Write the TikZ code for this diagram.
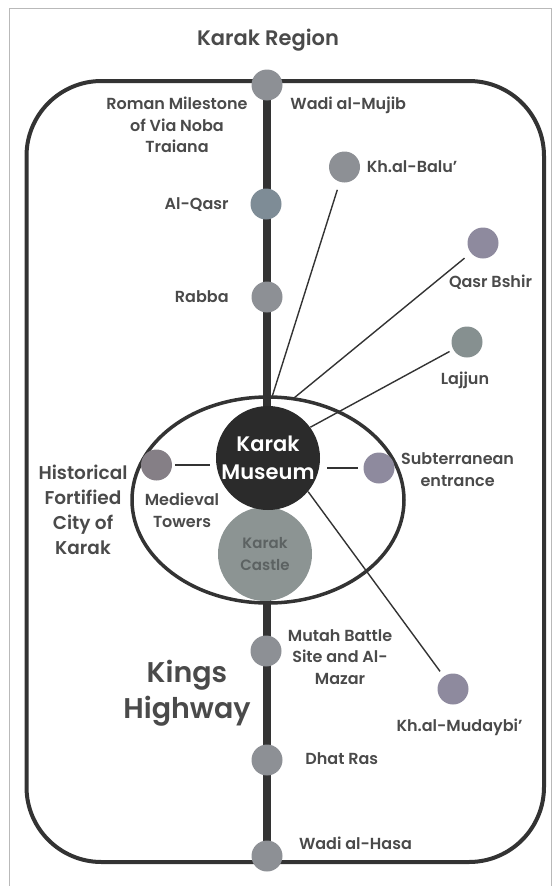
\documentclass[tikz,border=0pt]{standalone}
\usepackage{fontspec}
\setmainfont{Poppins}[BoldFont={Poppins SemiBold}]
\usepackage{tikz}
\usetikzlibrary{positioning,shapes.geometric}
\definecolor{ink}{HTML}{333333}
\definecolor{txt}{HTML}{4A4A4A}
\definecolor{dot}{HTML}{8D9095}
\definecolor{dotblue}{HTML}{7E8C96}
\definecolor{dotpurple}{HTML}{8E8A9E}
\definecolor{dotgreen}{HTML}{869090}
\definecolor{dotmauve}{HTML}{857F86}
\definecolor{castle}{HTML}{8C9493}
\definecolor{castletxt}{HTML}{5C6262}
\definecolor{museum}{HTML}{2B2B2B}

\begin{document}
\begin{tikzpicture}[x=1pt, y=-1pt, thick]
\useasboundingbox (0,0) rectangle (554,886);
\tikzstyle{site} = [circle, fill=dot, minimum size=31pt, inner sep=0pt]
\tikzstyle{lbl} = [text=txt, font=\bfseries\fontsize{16}{21.7}\selectfont, align=center, inner sep=0pt]
\tikzstyle{link} = [ink, line width=1.4pt]
% frame and region
\draw[gray!55, line width=1pt] (9,895) -- (9,8) -- (551,8) -- (551,895);
\draw[ink, line width=4pt, rounded corners=75pt] (26.5,81) rectangle (544,862);
\node[lbl, font=\bfseries\fontsize{21}{25}\selectfont] (region) at (268,40) {Karak Region};
% kings highway
\coordinate (top) at (267,85);
\coordinate (bot) at (267,856);
\draw[ink, line width=8pt] (top) -- (bot);
\node[draw=ink, line width=3.5pt, ellipse, minimum width=272pt, minimum height=206pt, inner sep=0pt] (city) at (268,500) {};
\node[circle, fill=castle, minimum size=94pt, inner sep=0pt, text=castletxt, align=center, font=\bfseries\fontsize{15}{22}\selectfont] (castle) at (265,554) {Karak\\Castle};
\node[circle, fill=museum, minimum size=104pt, inner sep=0pt, text=white, align=center, font=\bfseries\fontsize{21}{28}\selectfont] (museum) at (268,458) {Karak\\Museum};
% sites on the road
\node[site] (mujib) at (top) {};
\node[site, fill=dotblue] (qasr) at (266,204) {};
\node[site] (rabba) at (267,297) {};
\node[site] (mutah) at (266,651) {};
\node[site] (dhat) at (267,760) {};
\node[site] (hasa) at (bot) {};
% sites round the museum
\node[site] (balu) at (344.5,167) {};
\node[site, fill=dotpurple] (bshir) at (483,243) {};
\node[site, fill=dotgreen] (lajjun) at (467,342) {};
\node[site, fill=dotmauve] (towers) at (156.5,465) {};
\node[site, fill=dotpurple] (tunnel) at (379,468) {};
\node[site, fill=dotpurple] (mudaybi) at (453,689) {};
\coordinate (hub) at (272,397);
\coordinate (hubr) at (294,398);
\draw[link, shorten <=8pt] (balu) -- (hub);
\draw[link, shorten <=8pt] (bshir) -- (hubr);
\draw[link, shorten <=4pt] (lajjun) -- (museum.36);
\draw[link, shorten >=6pt] (museum.-40) -- (mudaybi);
\draw[link, shorten <=3pt, shorten >=6pt] (towers) -- (towers -| museum.west);
\draw[link, shorten <=7pt, shorten >=5pt] (museum.east |- tunnel) -- (tunnel);
% labels
\node[lbl, anchor=east] (l-milestone) at (248,125) {Roman Milestone\\of Via Noba\\Traiana};
\node[lbl, anchor=west] (l-mujib) at (290,105) {Wadi al-Mujib};
\node[lbl, right=6pt of balu] (l-balu) {Kh.al-Balu’};
\node[lbl, anchor=east] (l-qasr) at (229,205) {Al-Qasr};
\node[lbl] (l-bshir) at (490.5,282) {Qasr Bshir};
\node[lbl, anchor=east] (l-rabba) at (229,297) {Rabba};
\node[lbl] (l-lajjun) at (465,380) {Lajjun};
\node[lbl, font=\bfseries\fontsize{18.5}{25}\selectfont] (l-city) at (83,509.5) {Historical\\Fortified\\City of\\Karak};
\node[lbl] (l-towers) at (182,510.5) {Medieval\\Towers};
\node[lbl] (l-tunnel) at (457.6,469.5) {Subterranean\\entrance};
\node[lbl] (l-mutah) at (340,657) {Mutah Battle\\Site and Al-\\Mazar};
\node[lbl, font=\bfseries\fontsize{28.5}{36}\selectfont] (l-kings) at (187,693) {Kings\\Highway};
\node[lbl] (l-mudaybi) at (459.5,727) {Kh.al-Mudaybi’};
\node[lbl, anchor=west] (l-dhat) at (305,759) {Dhat Ras};
\node[lbl, anchor=west] (l-hasa) at (298.6,843) {Wadi al-Hasa};
\end{tikzpicture}
\end{document}
